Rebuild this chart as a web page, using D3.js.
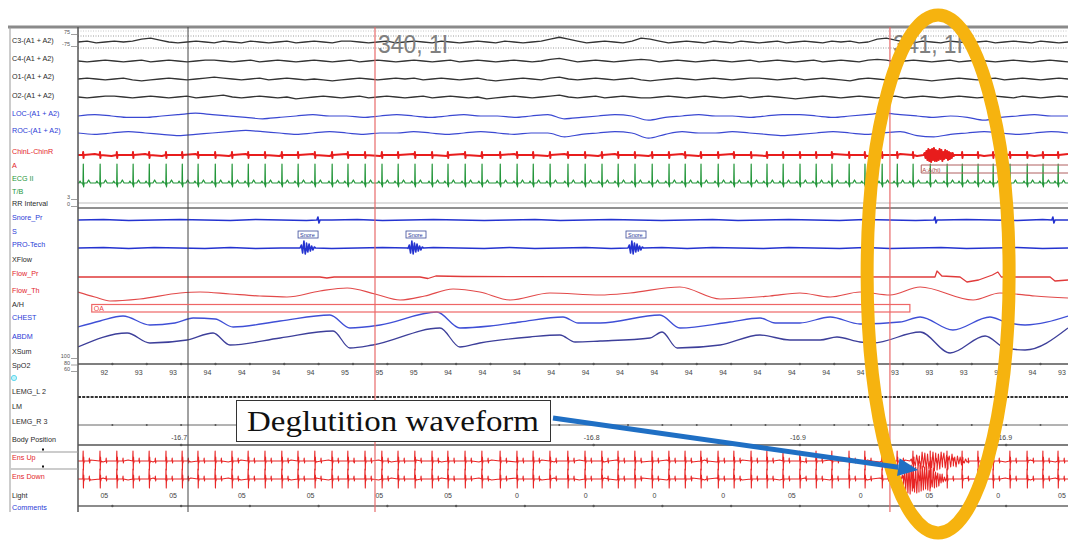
<!DOCTYPE html>
<meta charset="utf-8">
<script src="https://cdnjs.cloudflare.com/ajax/libs/d3/7.8.5/d3.min.js"></script>
<style>
  body { margin: 0; background: #fff; }
  svg { display: block; font-family: 'Liberation Sans', Arial, sans-serif; }
</style>
<div id="chart"></div>
<script>

  // ---------- data ----------
  const totalSec = 28.8

  const channelNames = ['C3-(A1 + A2)', 'C4-(A1 + A2)', 'O1-(A1 + A2)', 'O2-(A1 + A2)', 'LOC-(A1 + A2)', 'ROC-(A1 + A2)',
    'ChinL-ChinR', 'A', 'ECG II', 'T/B', 'RR Interval', 'Snore_Pr', 'S', 'PRO-Tech', 'XFlow', 'Flow_Pr', 'Flow_Th',
    'A/H', 'CHEST', 'ABDM', 'XSum', 'SpO2', 'LEMG_L 2', 'LM', 'LEMG_R 3', 'Body Position', 'Ens Up', 'Ens Down',
    'Light', 'Comments']

  // EEG / EOG (offsets, µV-ish units)
  const c3 = [0, 1, -1, 0, 1, 0, 1, 3, 4, 2, 0, -1, 0, 1, 0, -1, 1, 0, -1, 1, 0, -1, 0, 1, -1, 0, 1, 0, -1, 1,
    1, 0, -1, 0, 1, -1, 0, 1, 0, -1, 1, 0, -1, 0, 1, 0, -1, 1, 0, -1, 0, 1, 3, 5, 3, 1, -1, 0, 1, 0,
    -1, 1, 4, 3, 1, -1, 0, 1, 0, -1, 1, 0, -1, 1, 0, -1, 0, 1, -1, 0, 1, 0, -1, 1, 0, 1, -1, 0, 3, 4,
    2, 0, -1, 1, 0, -1, 1, 0, -1, 0, 1, -1, 0, 1, 0, -1, 1, 0, -1, 0]
  const c4 = [0, -1, 0, 1, 0, -1, 0, 1, -1, 0, 1, 0, -1, 0, 1, 1, 0, -1, 0, 1, -1, 0, 1, 0, -1, 0, 1, 0, -1, 0,
    1, -1, 0, 1, 0, -1, 0, 1, 0, -1, 0, 1, -1, 0, 1, 0, -1, 0, 1, 0, -1, 0, 2, 3, 1, -1, 0, 1, 0, -1,
    0, 1, 2, 1, -1, 0, 1, 0, -1, 0, 1, 0, -1, 0, 1, -1, 0, 1, 0, -1, 0, 1, -1, 0, 1, 0, -1, 1, 2, 1,
    -1, 0, 1, 0, -1, 0, 1, -1, 0, 1, 0, -1, 0, 1, 0, -1, 0, 1, 0, -1]
  const o1 = [0, 1, 0, -1, 0, 1, -1, -2, -1, 0, 1, 0, -1, 0, 1, 2, 1, 0, -1, 0, 1, -1, 0, 1, 0, -1, 0, -1, -2, -1,
    0, 1, 0, -1, 0, 1, 0, 1, -1, 0, 1, 0, -1, 0, 1, -1, -2, -1, 0, 1, 0, -1, 1, 2, 0, -1, 0, 1, 0, -1,
    0, 1, -1, -2, -1, 0, 1, 0, -1, 0, 1, 0, -1, 0, 1, 1, 0, -1, 0, 1, -1, 0, 1, 0, -1, -2, 0, 1, 0, -1,
    0, 1, 0, -1, -2, -1, 0, 1, 0, -1, 0, 1, -1, 0, 1, 0, -1, 0, 1, 0]
  const o2 = [0, -1, 0, 1, 1, 0, -1, 0, 1, 0, -1, 0, 1, -1, 0, 1, 2, 0, -1, 0, 1, 0, -1, 0, -2, -1, 0, 1, 0, -1,
    0, 1, -1, 0, 1, 0, -1, 0, 1, -1, 0, 1, 0, -1, 0, -2, -1, 0, 1, 0, -1, 0, 1, 2, 0, -1, 0, 1, -1, 0,
    1, 0, -1, -1, 0, 1, 0, -1, 0, 1, 0, -1, 0, 1, -1, 0, 1, 0, -1, -2, -1, 0, 1, 0, -1, 0, 1, 0, -1, 0,
    1, -1, 0, 1, 0, -1, 0, 1, 0, -1, 0, 1, 0, -1, 1, 0, -1, 0, 1, 0]
  const loc = [0, 1, 0, -1, -1, 0, 1, 2, 1, 0, -1, -2, -1, 0, 1, 0, 0, -1, 0, 1, 0, -1, 0, 1, 0, 0, -1, 0, 1, -2,
    -1, 0, 1, 0, -3, -1, 0, 1, 0, 0, -1, 0, 1, 1, 0, -1, 0, 1, 2, 1, 0, -1, 0, -1, -3, -1, 0, 1, 0, 0]
  const roc = [0, -1, 0, 1, 0, -1, -2, -1, 0, 1, 2, 1, 0, -1, 0, 1, 0, -1, 0, 0, 1, 0, -1, 0, 1, 0, -1, 0, 0, -3,
    -1, 0, 1, 0, -4, -1, 1, 0, 0, 1, 0, -1, -2, -1, 0, 1, 0, -1, 0, 1, -2, -3, -1, 0, 1, 0, -1, 0, 1, 0]

  // chin EMG background and the swallow burst
  const chin = [0, 1, -1, 0, 1, -1, 0, 1, 0, -1, 1, 0, -1, 0, 1, -1, 1, 0, -1, 0, 1, 0, -1, 1, -1, 0, 1, 0, -1, 1,
    0, -1, 1, 0, -1, 0, 1, -1, 0, 1, 0, -1, 1, 0, -1, 1, 0, -1, 0, 1, -1, 0, 1, 0, -1, 1, 0, -1, 0, 1]
  const chinBurst = [0, 2, -3, 4, -5, 6, -6, 5, -7, 6, -5, 7, -6, 5, -6, 4, -5, 6, -4, 5, -6, 3, -4, 5, -3, 4,
    -5, 3, -4, 2, -3, 2, -1, 0]
  const chinBurstSpan = [24.6, 25.5]

  // R peaks (s)
  const beats = [0.15, 0.64, 1.13, 1.60, 2.07, 2.56, 3.03, 3.49, 3.99, 4.48, 4.95, 5.44, 5.93, 6.40, 6.89, 7.39,
    7.85, 8.35, 8.84, 9.31, 9.80, 10.30, 10.76, 11.26, 11.75, 12.28, 12.77, 13.24, 13.73, 14.25, 14.75, 15.24,
    15.71, 16.20, 16.70, 17.19, 17.66, 18.12, 18.62, 19.08, 19.58, 20.04, 20.51, 21.00, 21.47, 21.93, 22.43,
    22.89, 23.39, 23.83, 24.29, 24.79, 25.28, 25.72, 26.18, 26.62, 27.11, 27.61, 28.07, 28.51]
  const ecgBeat = [[-0.12, 0], [-0.09, 1], [-0.06, 0], [-0.015, 0], [-0.005, -1], [0.004, 10], [0.013, -2],
    [0.03, 0], [0.11, 0], [0.16, 1.6], [0.21, 0]]
  const chinBeat = [[-0.01, 0], [0, 3], [0.01, -3], [0.02, 0]]
  const ensBeat = [[-0.01, 0], [0, 10], [0.008, -9], [0.016, 4], [0.024, -2], [0.032, 0],
    [0.17, 0], [0.18, 3], [0.19, -2], [0.2, 0]]

  // snore sensors
  const snorePr = [0, 0.5, -0.5, 0, 0.5, 0, -0.5, 0.5, 0, -0.5, 0, 0.5, -0.5, 0, 0.5, 0, -0.5, 0, 0.5, -0.5,
    0, 0.5, 0, -0.5, 0, 0.5, -0.5, 0, 0.5, 0, -0.5, 0.5, 0, -0.5, 0, 0.5, 0, -0.5, 0.5, 0]
  const snorePrBlips = [6.98, 24.93, 28.36]
  const proTech = [0, 0.5, -0.5, 0.5, 0, -0.5, 0.5, -0.5, 0, 0.5, -0.5, 0, 0.5, -0.5, 0.5, 0, -0.5, 0.5, -0.5, 0,
    0.5, -0.5, 0, 0.5, -0.5, 0.5, 0, -0.5, 0.5, 0, -0.5, 0.5, -0.5, 0, 0.5, -0.5, 0, 0.5, -0.5, 0]
  const snoreEvents = [6.46, 9.6, 16.0]
  const snoreBurst = [0, 3, -5, 7, -6, 5, -4, 4, -3, 2, -2, 1, 0]

  // respiratory (t in s, value)
  const flowPr = [[0, 0], [7.04, 0], [7.24, -1], [7.45, 0], [9.95, 0], [10.18, -1.5], [10.41, 1], [11.2, 0.5],
    [24.93, 0], [24.99, 6], [25.13, 1], [25.66, 0], [25.86, -5], [26.2, -3], [26.6, 2], [26.76, 5], [26.86, 0],
    [28.28, 0], [28.42, -4], [28.8, -3]]
  const flowTh = [[0, 3], [0.49, -2], [0.93, -6], [1.8, -4], [2.97, 2], [3.55, 3], [4.42, 1], [5.29, -1],
    [6.08, -2], [7.04, 4], [7.83, 7], [8.64, 1], [9.37, -5], [10.09, -1], [10.91, 6], [11.69, 3], [12.57, -5],
    [13.73, 2], [15.19, 0], [16.06, 2], [17.51, 8], [18.68, -4], [20.13, -1], [21.0, 2], [21.88, -2],
    [22.75, 3], [23.62, 0], [24.5, 8], [26.04, -5], [26.82, 2], [27.84, -1], [28.8, -3]]
  const chest = [[0, -5], [0.64, 1], [1.31, 6], [2.09, -3], [2.82, -1], [3.35, 4], [3.99, 3], [4.51, -5],
    [5.88, 1], [7.33, 7], [7.91, -6], [8.79, -3], [10.44, 10], [11.11, -6], [11.99, -4], [12.86, 0],
    [14.11, 5], [14.55, -1], [15.19, -1], [16.93, 7], [17.51, -6], [18.97, 0], [19.84, 4], [20.28, -1],
    [21.0, -1], [21.88, 5], [22.75, -2], [23.91, 0], [24.5, 5], [25.45, -8], [26.53, 5], [26.97, 0],
    [27.55, -3], [28.8, 6]]
  const abdm = [[0, -7], [1.43, 7], [2.09, -3], [3.17, 0], [3.93, 7], [4.42, -5], [5.88, 2], [7.42, 9],
    [7.91, -8], [8.58, -5], [10.53, 12], [11.11, -7], [11.69, -3], [13.15, 3], [14.02, 5], [14.46, -2],
    [15.19, -1], [16.64, 2], [16.99, 8], [17.43, -8], [18.68, -5], [19.84, 5], [20.71, 0], [21.59, 0],
    [22.08, 3], [22.75, -2], [23.13, -3], [24.5, 8], [25.37, -13], [26.39, 4], [26.97, -8], [27.55, -10],
    [28.8, 12]]
  const apneaEvent = { label: 'OA', start: 0.4, end: 24.2 }

  // ensemble EMG
  const ensUp = [0, 1, -1, 0, 1, 0, -1, 1, 0, -1, 0, 1, -1, 1, 0, -1, 0, 1, 0, -1, 1, 0, -1, 0, 1, -1, 0, 1, 0, -1,
    1, 0, -1, 1, 0, -1, 0, 1, -1, 0, 1, 0, -1, 1, 0, -1, 0, 1, 0, -1, 1, -1, 0, 1, 0, -1, 1, 0, -1, 0,
    1, 0, -1, 1, -1, 0, 1, 0, -1, 1, 0, -1, 0, 1, -1, 0, 1, 0, -1, 0]
  const ensDown = [0, -1, 1, 0, -1, 0, 1, -1, 0, 1, 0, -1, 1, -1, 0, 1, 0, -1, 0, 1, -1, 0, 1, 0, -1, 1, 0, -1, 0, 1,
    -1, 0, 1, -1, 0, 1, 0, -1, 1, 0, -1, 0, 1, -1, 0, 1, 0, -1, 0, 1, -1, 1, 0, -1, 0, 1, -1, 0, 1, 0,
    -1, 0, 1, -1, 1, 0, -1, 0, 1, -1, 0, 1, 0, -1, 1, 0, -1, 0, 1, 0]
  const ensUpBurst = [0, 2, -3, 4, -5, 6, -7, 5, -8, 9, -6, 8, -9, 7, -8, 10, -7, 9, -10, 8, -9, 7, -8, 9, -6, 8,
    -7, 6, -8, 5, -6, 7, -5, 4, -6, 5, -3, 4, -4, 3, -2, 2, -1, 0]
  const ensDownBurst = [0, 4, -6, 9, -11, 12, -14, 13, -15, 14, -12, 15, -13, 12, -14, 11, -13, 14, -12, 13, -11,
    12, -10, 13, -11, 9, -12, 10, -8, 11, -9, 7, -8, 6, -7, 5, -4, 5, -3, 2, -2, 1, 0]
  const ensUpSpan = [24.2, 25.9]
  const ensDownSpan = [23.95, 25.3]

  // numeric channels
  const spo2Times = [1, 2, 3, 4, 5, 6, 7, 8, 9, 10, 11, 12, 13, 14, 15, 16, 17, 18, 19, 20, 21, 22, 23, 24, 25, 26, 27, 28, 29]
  const spo2 = [92, 93, 93, 94, 94, 94, 94, 95, 95, 95, 94, 94, 94, 94, 94, 94, 94, 94, 94, 94, 94, 94, 94, 93, 93, 93, 93, 94, 93]
  const bodyTimes = [3, 15, 21, 27]
  const bodyPos = ['-16.7', '-16.8', '-16.9', '-16.9']
  const lightTimes = [1, 3, 5, 7, 9, 11, 13, 15, 17, 19, 21, 23, 25, 27, 29]
  const light = ['05', '05', '05', '05', '05', '05', '0', '0', '0', '0', '05', '0', '05', '0', '05']

  // cursors and epoch labels
  const cursorTime = 3.2
  const epochTimes = [8.64, 23.62]
  const epochLabels = ['340, 1I', '341, 1I']
  const swallowTime = 24.44
  const annotationText = 'Deglutition waveform'

  // ---------- layout ----------
  const width = 1068, height = 545
  const plotL = 78, plotR = 1068, plotT = 27, plotB = 512
  const labelY = [41, 59, 77, 96, 114, 131, 152, 166, 179, 192, 204, 218, 232, 245, 260, 274, 291, 305, 318, 337,
    352, 366, 392, 407, 422, 440, 458, 477, 496, 508]
  const BLACK = '#2a2a2a', BLUE = '#2b3bd6', RED = '#e3262b', GREEN = '#23963a'
  const labelColor = [BLACK, BLACK, BLACK, BLACK, BLUE, BLUE, RED, RED, GREEN, GREEN, BLACK, BLUE, BLUE, BLUE, BLACK,
    RED, RED, BLACK, BLUE, BLUE, BLACK, BLACK, BLACK, BLACK, BLACK, BLACK, RED, RED, BLACK, BLUE]

  const svg = d3.select('#chart').append('svg')
    .attr('width', width).attr('height', height)

  svg.append('defs').append('clipPath').attr('id', 'traces')
    .append('rect').attr('x', plotL).attr('y', plotT).attr('width', plotR - plotL).attr('height', plotB - plotT)

  const x = d3.scaleLinear().domain([0, totalSec]).range([plotL, plotR])
  const row = (base, gain) => d3.scaleLinear().domain([0, 1]).range([base, base - gain])
  const sampled = (values, t0 = 0, t1 = totalSec) => {
    const step = (t1 - t0) / (values.length - 1)
    return values.map((v, i) => [t0 + i * step, v])
  }
  const withBeats = (points, template) => {
    const pts = points.slice()
    beats.forEach(b => template.forEach(d => pts.push([b + d[0], d[1]])))
    return pts.sort((a, b) => a[0] - b[0])
  }
  // keep the last value label inside the window
  const labelX = t => Math.min(x(t) - 8, plotR - 6)

  const plot = svg.append('g').attr('clip-path', 'url(#traces)')

  function trace(points, y, color, w, curve) {
    plot.append('path')
      .datum(points)
      .attr('fill', 'none')
      .attr('stroke', color)
      .attr('stroke-width', w)
      .attr('stroke-linejoin', 'round')
      .attr('d', d3.line().curve(curve || d3.curveLinear).x(d => x(d[0])).y(d => y(d[1])))
  }
  function hline(yPos, color, w, dash) {
    plot.append('line').attr('x1', plotL).attr('x2', plotR).attr('y1', yPos).attr('y2', yPos)
      .attr('stroke', color).attr('stroke-width', w).attr('stroke-dasharray', dash || null)
  }

  // frame
  svg.append('line').attr('x1', 8).attr('x2', plotR).attr('y1', plotT).attr('y2', plotT)
    .attr('stroke', '#8a8a8a').attr('stroke-width', 3)
  svg.append('line').attr('x1', 10).attr('x2', 10).attr('y1', plotT).attr('y2', plotB).attr('stroke', '#9a9a9a')
  svg.append('line').attr('x1', plotL).attr('x2', plotL).attr('y1', plotT).attr('y2', plotB)
    .attr('stroke', '#555').attr('stroke-width', 1.5)

  // guide lines
  hline(36, '#9a9a9a', 1, '1,1.5')
  hline(48, '#9a9a9a', 1, '1,1.5')
  hline(31, '#c8c8c8', 1, '1,1.5')
  hline(203, '#bdbdbd', 1)
  hline(208, '#6a6a6a', 1.6)

  // cursors
  svg.append('line').attr('x1', x(cursorTime)).attr('x2', x(cursorTime)).attr('y1', plotT).attr('y2', plotB)
    .attr('stroke', '#444').attr('stroke-width', 1)
  epochTimes.forEach(t => {
    svg.append('line').attr('x1', x(t)).attr('x2', x(t)).attr('y1', plotT).attr('y2', plotB)
      .attr('stroke', '#e86a6a').attr('stroke-width', 1.2)
  })
  epochTimes.forEach((t, i) => {
    svg.append('text').attr('x', x(t) + 3).attr('y', 53)
      .attr('font-size', 25).attr('fill', '#808080')
      .attr('textLength', 70).attr('lengthAdjust', 'spacingAndGlyphs')
      .text(epochLabels[i])
  })

  // EEG / EOG
  trace(sampled(c3), row(42, 0.95), '#333', 1.3)
  trace(sampled(c4), row(61, 0.85), '#333', 1.3)
  trace(sampled(o1), row(79, 0.95), '#333', 1.3)
  trace(sampled(o2), row(97, 0.95), '#333', 1.3)
  trace(sampled(loc), row(116, 1.4), '#3a48d2', 1.2, d3.curveMonotoneX)
  trace(sampled(roc), row(133, 1.3), '#3a48d2', 1.2, d3.curveMonotoneX)

  // chin with swallow burst
  trace(withBeats(sampled(chin).concat(sampled(chinBurst, chinBurstSpan[0], chinBurstSpan[1])), chinBeat),
    row(155, 1), '#e81c1c', 2)

  // ECG
  trace(withBeats([[0, 0], [totalSec, 0]], ecgBeat), row(183, 1.9), GREEN, 1.2)

  // event box on ECG row
  svg.append('path')
    .attr('d', `M${plotR},165H${x(24.53)}V173H${plotR}`)
    .attr('fill', 'none').attr('stroke', '#b06060').attr('stroke-width', 1)
  svg.append('text').attr('x', x(24.53) + 1).attr('y', 171.5).attr('font-size', 6)
    .attr('fill', '#a04040').text('A:A(hi)')

  // snore channels
  const snorePrPts = sampled(snorePr)
  snorePrBlips.forEach(t => snorePrPts.push([t - 0.03, 0], [t, 3], [t + 0.03, -3], [t + 0.06, 0]))
  trace(snorePrPts.sort((a, b) => a[0] - b[0]), row(220, 1), '#2433d0', 1.6)

  let proPts = sampled(proTech)
  snoreEvents.forEach(t => { proPts = proPts.concat(sampled(snoreBurst, t, t + 0.45)) })
  trace(proPts.sort((a, b) => a[0] - b[0]), row(248, 1), '#2433d0', 1.6)
  snoreEvents.forEach(t => {
    svg.append('rect').attr('x', x(t) - 2).attr('y', 231).attr('width', 20).attr('height', 7)
      .attr('fill', '#fff').attr('stroke', '#3a4a9a').attr('stroke-width', 0.8)
    svg.append('text').attr('x', x(t)).attr('y', 236.8).attr('font-size', 5.5).attr('fill', '#2a3a9a').text('Snore')
  })

  // airflow and effort
  trace(flowPr, row(277, 1), '#e03a3a', 1.3)
  trace(flowTh, row(295, 1), '#e24a4a', 1.2, d3.curveMonotoneX)
  svg.append('rect').attr('x', x(apneaEvent.start)).attr('y', 304.5)
    .attr('width', x(apneaEvent.end) - x(apneaEvent.start)).attr('height', 7.5)
    .attr('fill', 'none').attr('stroke', '#e66').attr('stroke-width', 1.2)
  svg.append('text').attr('x', x(apneaEvent.start) + 2).attr('y', 310.8).attr('font-size', 7)
    .attr('fill', '#e44').text(apneaEvent.label)
  trace(chest, row(322, 1), '#3f4fd6', 1.3, d3.curveMonotoneX)
  trace(abdm, row(340, 1), '#3d3f9a', 1.3, d3.curveMonotoneX)

  // SpO2
  hline(364, '#555', 1.3)
  plot.selectAll('.spo2dot').data(spo2Times).join('circle')
    .attr('cx', d => x(d)).attr('cy', 364).attr('r', 1.2).attr('fill', '#555')
  svg.append('g').selectAll('text').data(spo2).join('text')
    .attr('x', (d, i) => labelX(spo2Times[i])).attr('y', 374.5)
    .attr('text-anchor', 'middle').attr('font-size', 7).attr('fill', '#444')
    .text(d => d)

  // leg EMG
  hline(397, '#333', 1.8, '3,1.2')
  hline(425, '#666', 1)
  plot.selectAll('.lemgdot').data(spo2Times).join('circle')
    .attr('cx', d => x(d)).attr('cy', 425).attr('r', 1).attr('fill', '#555')

  // body position
  hline(445, '#555', 1.3)
  plot.selectAll('.bodydot').data(bodyTimes).join('circle')
    .attr('cx', d => x(d)).attr('cy', 445).attr('r', 1.3).attr('fill', '#555')
  plot.selectAll('.bodytxt').data(bodyPos).join('text')
    .attr('x', (d, i) => x(bodyTimes[i]) - 2).attr('y', 439.5)
    .attr('text-anchor', 'middle').attr('font-size', 7).attr('fill', '#444')
    .text(d => d)

  // ensemble EMG
  trace(withBeats(sampled(ensUp).concat(sampled(ensUpBurst, ensUpSpan[0], ensUpSpan[1])), ensBeat),
    row(461, 1), '#e82525', 1.1)
  trace(withBeats(sampled(ensDown).concat(sampled(ensDownBurst, ensDownSpan[0], ensDownSpan[1])), ensBeat),
    row(479, 1), '#e82525', 1.1)

  // light
  hline(506, '#666', 1.3)
  plot.selectAll('.lightdot').data(lightTimes).join('circle')
    .attr('cx', d => x(d)).attr('cy', 506).attr('r', 1.2).attr('fill', '#555')
  svg.append('g').selectAll('text').data(light).join('text')
    .attr('x', (d, i) => labelX(lightTimes[i])).attr('y', 498)
    .attr('text-anchor', 'middle').attr('font-size', 7).attr('fill', '#444')
    .text(d => d)

  // ---------- left label column ----------
  const labels = svg.append('g')
  labels.selectAll('text').data(channelNames).join('text')
    .attr('x', 12).attr('y', (d, i) => labelY[i])
    .attr('dominant-baseline', 'middle')
    .attr('font-size', 7.2)
    .attr('fill', (d, i) => labelColor[i])
    .text(d => d)
  labels.append('circle').attr('cx', 14).attr('cy', 378).attr('r', 2.6)
    .attr('fill', '#bff3fb').attr('stroke', '#5fd8ee').attr('stroke-width', 1)
  ;[452, 469].forEach(yy => {
    labels.append('line').attr('x1', 11).attr('x2', plotL).attr('y1', yy).attr('y2', yy).attr('stroke', '#999')
    labels.append('rect').attr('x', 42).attr('y', yy - 3.5).attr('width', 2).attr('height', 2).attr('fill', '#111')
  })
  const scaleMarks = [['75', 33], ['-75', 45], ['3', 198], ['0', 205], ['100', 357], ['80', 363.5], ['60', 370]]
  scaleMarks.forEach(m => {
    labels.append('text').attr('x', 70).attr('y', m[1]).attr('text-anchor', 'end')
      .attr('dominant-baseline', 'middle').attr('font-size', 5.5).attr('fill', '#555').text(m[0])
    labels.append('line').attr('x1', 71).attr('x2', 77).attr('y1', m[1] + 1.5).attr('y2', m[1] + 1.5)
      .attr('stroke', '#888').attr('stroke-width', 0.8)
  })

  // ---------- annotation ----------
  const cx = x(swallowTime) + 20
  svg.append('ellipse').attr('cx', cx).attr('cy', 274).attr('rx', 71).attr('ry', 259)
    .attr('fill', 'none').attr('stroke', '#f6b30f').attr('stroke-width', 13)

  svg.append('rect').attr('x', 236.5).attr('y', 400.5).attr('width', 314).attr('height', 41)
    .attr('fill', '#fff').attr('stroke', '#333').attr('stroke-width', 1)
  svg.append('text').attr('x', 247).attr('y', 431)
    .attr('font-family', "'Liberation Serif', 'DejaVu Serif', serif")
    .attr('font-size', 29).attr('fill', '#111')
    .attr('textLength', 292).attr('lengthAdjust', 'spacingAndGlyphs')
    .text(annotationText)

  const tipX = x(swallowTime), tipY = 470
  const sx = 553, sy = 418
  const ang = Math.atan2(tipY - sy, tipX - sx)
  const headLen = 20, headW = 9
  const bx = tipX - headLen * Math.cos(ang), by = tipY - headLen * Math.sin(ang)
  svg.append('line').attr('x1', sx).attr('y1', sy).attr('x2', bx).attr('y2', by)
    .attr('stroke', '#1f6fc4').attr('stroke-width', 5)
  svg.append('path')
    .attr('d', `M${tipX},${tipY}L${bx + headW * Math.sin(ang)},${by - headW * Math.cos(ang)}L${bx - headW * Math.sin(ang)},${by + headW * Math.cos(ang)}Z`)
    .attr('fill', '#1f6fc4')

</script>
